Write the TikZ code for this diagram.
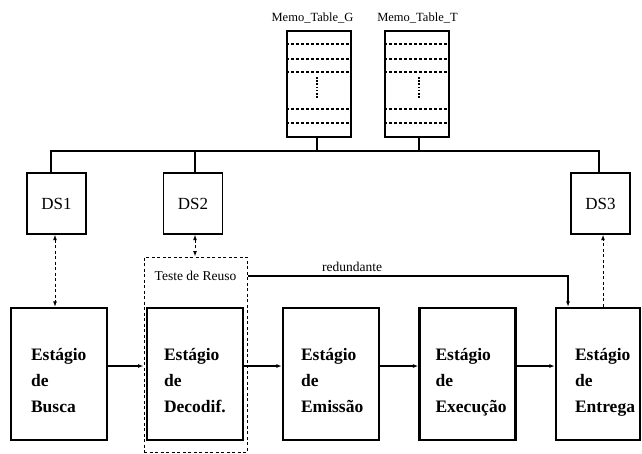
\documentclass[tikz,border=0pt]{standalone}
\usepackage{fontspec}
\setmainfont{Liberation Serif}
\usetikzlibrary{arrows.meta,calc}
\begin{document}
\begin{tikzpicture}[x=1pt,y=-1pt,
  stage/.style={draw,line width=2.3pt,minimum width=96pt,minimum height=132pt,inner sep=0pt},
  stagetext/.style={anchor=north west,align=left,inner sep=0pt,font=\fontsize{17.5}{26}\selectfont\bfseries},
  dsbox/.style={draw,line width=1.4pt,minimum width=59pt,minimum height=61pt,inner sep=0pt,font=\fontsize{17}{18}\selectfont},
  memo/.style={draw,line width=1.3pt,minimum width=64pt,minimum height=106pt,inner sep=0pt},
  lbl/.style={inner sep=0pt,font=\fontsize{12.5}{14}\selectfont},
  txt/.style={inner sep=0pt,font=\fontsize{13.5}{15}\selectfont},
  flow/.style={line width=1.2pt,-{Latex[length=5.5pt,width=4pt]}},
  dsboth/.style={line width=1pt,dash pattern=on 3pt off 2.5pt,{Latex[length=5.5pt,width=4pt]}-{Latex[length=5.5pt,width=4pt]}},
  dsup/.style={line width=1pt,dash pattern=on 3pt off 2.5pt,-{Latex[length=5.5pt,width=4pt]}},
  bus/.style={line width=1.8pt},
  row/.style={line width=1.1pt,dash pattern=on 2.5pt off 2.5pt},
  dots/.style={line width=1.8pt,dash pattern=on 1.6pt off 1.6pt},
  reusebox/.style={draw,line width=1pt,dash pattern=on 3pt off 2.5pt,minimum width=103pt,minimum height=195pt,inner sep=0pt}
]
\useasboundingbox (0,0) rectangle (642,453);

% memo tables
\node[memo] (memog) at (319,84) {};
\node[memo] (memot) at (417,84) {};
\node[lbl] (memogl) at (312.5,18) {Memo\_Table\_G};
\node[lbl] (memotl) at (417.5,18) {Memo\_Table\_T};
\foreach \yy in {44,59,72,109,123}{
  \draw[row] (memog.west |- 0,\yy) -- (memog.east |- 0,\yy);
  \draw[row] (memot.west |- 0,\yy) -- (memot.east |- 0,\yy);
}
\draw[dots] ([xshift=-2pt]memog.center |- 0,77) -- ([xshift=-2pt]memog.center |- 0,99);
\draw[dots] ([xshift=2pt]memot.center |- 0,77) -- ([xshift=2pt]memot.center |- 0,99);

% DS boxes
\node[dsbox] (ds1) at (56.5,203.5) {DS1};
\node[dsbox] (ds2) at (193,203.5) {DS2};
\node[dsbox] (ds3) at (600.5,203.5) {DS3};

% bus
\coordinate (busy) at (0,151);
\draw[bus] ([xshift=-5.5pt]ds1.north) -- ([xshift=-5.5pt]ds1.north |- busy) -| ([xshift=-1.5pt]ds3.north);
\draw[bus] ([xshift=2pt]ds2.north) -- ([xshift=2pt]ds2.north |- busy);
\draw[bus] ([xshift=-2pt]memog.south) -- ([xshift=-2pt]memog.south |- busy);
\draw[bus] ([xshift=2pt]memot.south) -- ([xshift=2pt]memot.south |- busy);

% stages
\node[stage] (busca) at (59,374) {};
\node[stage] (decod) at (195,374) {};
\node[stage] (emis) at (331,374) {};
\node[stage] (exec) at (467.5,374) {};
\node[stage, minimum width=84pt] (entr) at (598,374) {};

\node[stagetext] (buscat) at ([xshift=21pt,yshift=-41pt]busca.north west) {Estágio\\de\\Busca};
\node[stagetext] (decodt) at ([xshift=18pt,yshift=-41pt]decod.north west) {Estágio\\de\\Decodif.};
\node[stagetext] (emist) at ([xshift=19pt,yshift=-41pt]emis.north west) {Estágio\\de\\Emissão};
\node[stagetext] (exect) at ([xshift=17pt,yshift=-41pt]exec.north west) {Estágio\\de\\Execução};
\node[stagetext] (entrt) at ([xshift=20pt,yshift=-41pt]entr.north west) {Estágio\\de\\Entrega};

% reuse test box
\node[reusebox] (reuso) at (195.5,354.5) {};
\node[txt] (teste) at (195.5,276) {Teste de Reuso};

% flow arrows
\draw[flow] ([yshift=8pt]busca.east) -- ([yshift=8pt]busca.east -| reuso.west);
\draw[flow] ([yshift=8pt]decod.east) -- ([yshift=8pt]decod.east -| emis.west);
\draw[flow] ([yshift=8pt]emis.east) -- ([yshift=8pt]emis.east -| exec.west);
\draw[flow] ([yshift=8pt]exec.east) -- ([yshift=8pt]exec.east -| entr.west);

% redundante
\draw[flow] (reuso.east |- teste) -| ([xshift=-30pt]entr.north);
\node[txt] (redl) at (352,267) {redundante};

% DS connections
\draw[dsboth] ([xshift=-1.5pt]ds1.south) -- ([xshift=-1.5pt]ds1.south |- busca.north);
\draw[dsboth] ([xshift=2pt]ds2.south) -- ([xshift=2pt]ds2.south |- reuso.north);
\draw[dsup] ([xshift=5pt]entr.north) -- ([xshift=5pt]entr.north |- ds3.south);
\end{tikzpicture}
\end{document}
